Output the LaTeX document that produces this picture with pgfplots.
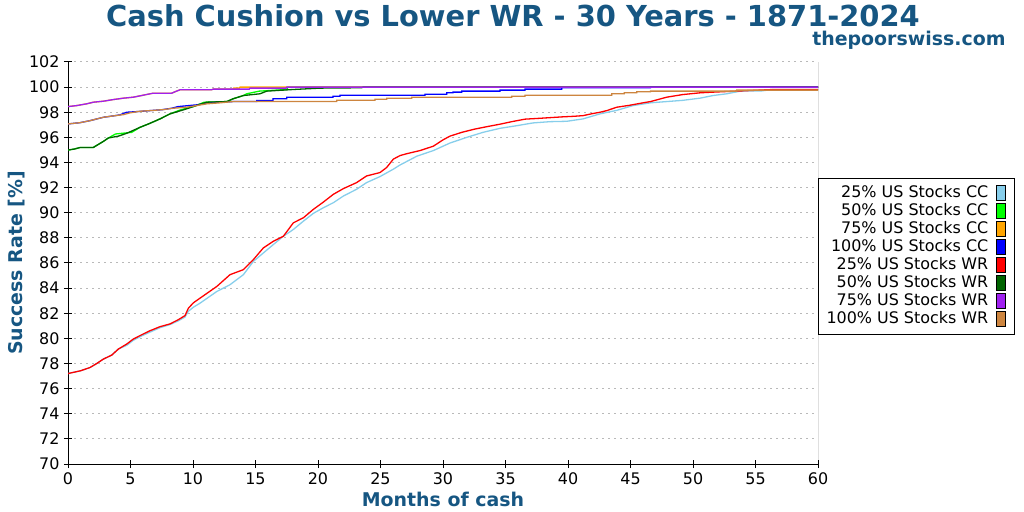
\documentclass[border=0pt]{standalone}
\usepackage{fontspec}
\setmainfont{DejaVu Sans}
\usepackage{pgfplots}
\pgfplotsset{compat=1.18}
\definecolor{tcol}{RGB}{22,86,130}
\definecolor{cSky}{RGB}{135,206,235}
\definecolor{cLime}{RGB}{0,255,0}
\definecolor{cOrange}{RGB}{255,165,0}
\definecolor{cBlue}{RGB}{0,0,255}
\definecolor{cRed}{RGB}{255,0,0}
\definecolor{cDGreen}{RGB}{0,100,0}
\definecolor{cPurple}{RGB}{160,32,240}
\definecolor{cPeru}{RGB}{205,133,63}
\pgfplotsset{
  sw/.style={color=#1, legend image code/.code={\draw[fill=#1,draw=black,line width=0.8bp,solid] (0bp,-7.5bp) rectangle (9bp,7.5bp);}},
}
\begin{document}
\begin{tikzpicture}
\path[use as bounding box] (0,0) rectangle (1024bp,512bp);
\begin{axis}[
  at={(68bp,48bp)}, anchor=south west, scale only axis,
  width=750bp, height=402bp,
  xmin=0, xmax=60, ymin=70, ymax=102,
  xtick={0,5,...,60}, ytick={70,72,...,102},
  axis x line*=bottom, axis y line*=left,
  axis line style={line width=1bp, black},
  tick align=center, major tick length=8bp,
  tick style={black, line width=1bp},
  ymajorgrids, grid style={gray!55, line width=1bp, dash pattern=on 2bp off 4bp},
  /pgf/number format/assume math mode=true,
  tick label style={font=\fontsize{16}{18}\selectfont},
  xticklabel style={yshift=-1bp},
  yticklabel style={xshift=-1bp},
  xlabel={\bfseries Months of cash},
  ylabel={\bfseries Success Rate [\%]},
  x label style={at={(axis description cs:0.5,0)}, anchor=center, yshift=-35bp, text=tcol, font=\fontsize{19}{21}\selectfont},
  y label style={at={(axis description cs:0,0.5)}, anchor=center, yshift=51bp, text=tcol, font=\fontsize{19}{21}\selectfont},
  every axis plot/.append style={line width=1.3bp},
  legend cell align=right, legend plot pos=right,
  legend style={at={(1,0.517)}, anchor=west, draw=black, line width=1bp,
    font=\fontsize{16}{18}\selectfont, inner xsep=8bp, inner ysep=7bp,
    /tikz/column sep=8bp, /tikz/row sep=2bp,
    nodes={inner sep=0bp, text height=12bp, text depth=4bp}},
]
% 25% US Stocks CC
\addplot[sw=cSky] coordinates {(0,77.2)(1,77.42)(1.76,77.68)(2.3,78.0)(2.83,78.35)(3.5,78.67)(4.03,79.15)(4.7,79.45)(5.23,79.85)(5.9,80.2)(6.56,80.5)(7.36,80.85)(8.16,81.1)(8.83,81.4)(9.36,81.7)(9.63,82.16)(10.03,82.48)(10.56,82.8)(11.9,83.73)(12.96,84.27)(14.03,85.07)(14.83,86.13)(15.63,86.8)(16.43,87.47)(17.23,88.13)(18.03,88.67)(18.83,89.33)(19.63,89.95)(20.43,90.4)(21.23,90.8)(22.03,91.33)(23.09,91.87)(23.89,92.4)(24.96,92.88)(26.03,93.47)(26.56,93.8)(27.9,94.5)(29.23,94.95)(30.56,95.55)(31.9,96.0)(33.2,96.4)(34.56,96.72)(35.9,96.93)(37.2,97.15)(38.56,97.25)(39.9,97.28)(41.2,97.47)(42.56,97.87)(43.9,98.15)(45.2,98.53)(46.6,98.75)(47.9,98.85)(49.2,98.95)(50.56,99.12)(51.6,99.33)(52.7,99.47)(53.8,99.68)(55.5,99.7)(56.4,99.81)(60,99.81)};
\addlegendentry{25\% US Stocks CC}
% 50% US Stocks CC
\addplot[sw=cLime] coordinates {(0,94.99)(0.5,95.07)(1.0,95.2)(2.03,95.2)(2.83,95.68)(3.23,95.95)(3.8,96.27)(5.1,96.4)(5.76,96.8)(6.56,97.12)(7.36,97.47)(8.16,97.87)(9.0,98.19)(10.03,98.45)(10.9,98.8)(12.7,98.85)(13.2,99.07)(14.03,99.33)(14.3,99.47)(15.3,99.68)(17.5,99.81)(17.6,100)(60,100)};
\addlegendentry{50\% US Stocks CC}
% 75% US Stocks CC
\addplot[sw=cOrange] coordinates {(0,98.45)(0.69,98.53)(1.49,98.67)(2.03,98.8)(2.83,98.88)(3.63,99.01)(4.43,99.12)(5.23,99.2)(6.03,99.36)(6.83,99.52)(8.3,99.52)(8.56,99.63)(8.96,99.79)(11.5,99.79)(11.6,99.84)(13.2,99.84)(13.25,99.92)(13.7,99.92)(13.76,100)(60,100)};
\addlegendentry{75\% US Stocks CC}
% 100% US Stocks CC
\addplot[sw=cBlue] coordinates {(0,97.07)(0.96,97.17)(1.76,97.33)(2.83,97.6)(3.63,97.71)(4.16,97.79)(4.69,98.0)(5.5,98.05)(6.56,98.13)(7.5,98.2)(8.3,98.32)(8.8,98.45)(10.3,98.59)(11.1,98.72)(11.9,98.8)(13.2,98.85)(15.1,98.85)(15.1,98.93)(16.4,98.93)(16.4,99.07)(17.5,99.07)(17.5,99.2)(21.2,99.2)(21.2,99.28)(21.76,99.28)(21.76,99.36)(28.56,99.36)(28.56,99.44)(30.3,99.44)(30.3,99.55)(30.8,99.55)(30.8,99.6)(31.5,99.6)(31.5,99.68)(34.56,99.68)(34.56,99.76)(36.56,99.76)(36.56,99.84)(39.5,99.84)(39.5,99.95)(46.6,99.95)(46.6,100)(60,100)};
\addlegendentry{100\% US Stocks CC}
% 25% US Stocks WR
\addplot[sw=cRed] coordinates {(0,77.2)(1,77.42)(1.76,77.68)(2.3,78.0)(2.83,78.35)(3.5,78.67)(4.03,79.15)(4.7,79.55)(5.23,79.95)(5.9,80.29)(6.56,80.61)(7.36,80.93)(8.16,81.15)(8.83,81.49)(9.36,81.81)(9.63,82.4)(10.03,82.83)(10.56,83.2)(11.9,84.13)(12.96,85.07)(14.03,85.47)(14.83,86.27)(15.63,87.2)(16.43,87.73)(17.23,88.13)(18.03,89.2)(18.83,89.6)(19.63,90.27)(20.43,90.85)(21.23,91.47)(22.03,91.92)(23.09,92.4)(23.89,92.93)(24.96,93.2)(25.49,93.6)(26.03,94.27)(26.56,94.55)(27.1,94.7)(28.16,94.95)(29.23,95.3)(30.0,95.8)(30.56,96.1)(31.5,96.4)(32.5,96.65)(33.5,96.85)(34.56,97.05)(35.5,97.25)(36.56,97.45)(37.76,97.52)(38.56,97.57)(39.5,97.63)(40.5,97.68)(41.2,97.73)(42.0,97.9)(42.56,98.0)(43.1,98.13)(43.9,98.4)(44.9,98.55)(46.0,98.75)(46.6,98.85)(47.9,99.2)(49.2,99.41)(50.6,99.55)(51.6,99.6)(53.4,99.68)(54.6,99.73)(56.4,99.81)(60,99.81)};
\addlegendentry{25\% US Stocks WR}
% 50% US Stocks WR
\addplot[sw=cDGreen] coordinates {(0,94.99)(0.5,95.07)(1.0,95.2)(2.03,95.2)(2.83,95.68)(3.23,95.95)(4.03,96.1)(4.69,96.32)(5.76,96.8)(6.56,97.12)(7.36,97.47)(8.16,97.87)(9.23,98.19)(10.03,98.45)(11.09,98.8)(12.7,98.85)(13.2,99.07)(14.03,99.33)(15.36,99.47)(15.9,99.68)(18.0,99.81)(20.2,99.92)(23.5,99.95)(23.6,100)(60,100)};
\addlegendentry{50\% US Stocks WR}
% 75% US Stocks WR
\addplot[sw=cPurple] coordinates {(0,98.45)(0.69,98.53)(1.49,98.67)(2.03,98.8)(2.83,98.88)(3.63,99.01)(4.43,99.12)(5.23,99.2)(6.03,99.36)(6.83,99.52)(8.3,99.52)(8.56,99.63)(8.96,99.79)(11.5,99.79)(11.6,99.84)(14.5,99.84)(14.56,99.92)(17.45,99.92)(17.5,100)(60,100)};
\addlegendentry{75\% US Stocks WR}
% 100% US Stocks WR
\addplot[sw=cPeru] coordinates {(0,97.07)(0.96,97.17)(1.76,97.33)(2.83,97.6)(3.63,97.71)(4.43,97.81)(4.96,97.95)(5.76,98.08)(6.56,98.13)(7.63,98.21)(8.43,98.32)(9.49,98.4)(10.29,98.53)(11.1,98.67)(12.16,98.75)(13.2,98.85)(21.5,98.85)(21.5,98.96)(24.56,98.96)(24.56,99.04)(25.5,99.04)(25.5,99.12)(27.5,99.12)(27.5,99.2)(35.5,99.2)(35.5,99.28)(36.56,99.28)(36.56,99.36)(43.5,99.36)(43.5,99.47)(44.5,99.47)(44.5,99.55)(45.5,99.55)(45.5,99.63)(46.6,99.63)(46.6,99.68)(53.5,99.68)(53.5,99.76)(60,99.76)};
\addlegendentry{100\% US Stocks WR}
\draw[line width=1bp, black] (rel axis cs:1,0) -- (rel axis cs:1,1);
\end{axis}
\node[font=\fontsize{29}{32}\selectfont\bfseries, text=tcol] at (513bp,496bp) {Cash Cushion vs Lower WR - 30 Years - 1871-2024};
\node[font=\fontsize{19}{21}\selectfont\bfseries, text=tcol, anchor=east] at (1009bp,472bp) {thepoorswiss.com};
\end{tikzpicture}
\end{document}
